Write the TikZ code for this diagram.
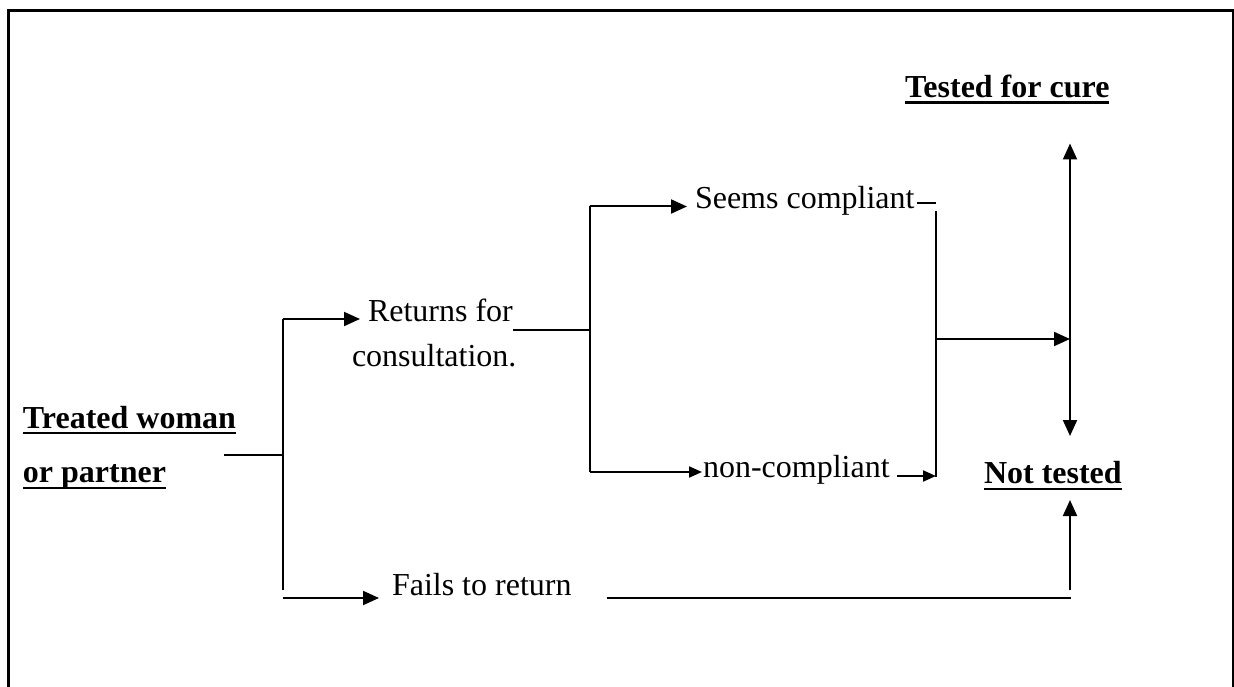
\documentclass[tikz,border=0pt]{standalone}
\usepackage{fontspec}
\setmainfont{Liberation Serif}
\usetikzlibrary{arrows.meta}
\tikzset{
  lbl/.style={anchor=base west, inner sep=0pt, outer sep=0pt, font=\fontsize{32}{38}\selectfont},
  head/.style={lbl, font=\fontsize{32}{38}\selectfont\bfseries},
  wire/.style={line width=2pt},
  arr/.style={wire, -{Triangle[length=16pt,width=14pt]}},
  sarr/.style={wire, -{Triangle[length=13pt,width=11pt]}},
  darr/.style={wire, {Triangle[length=16pt,width=14pt]}-{Triangle[length=16pt,width=14pt]}},
  uline/.style={line width=2.5pt},
}
\begin{document}
\begin{tikzpicture}[x=1pt, y=-1pt]
\useasboundingbox (0,0) rectangle (1234,687);
\clip (0,0) rectangle (1234,687);

% frame (open at the bottom)
\draw[line width=3pt] (8.5,700) -- (8.5,10.5) -- (1233.5,10.5) -- (1233.5,700);

% labels
\node[head] (cure)  at (905,98)    {Tested for cure};
\node[head] (tw1)   at (23,428.5)  {Treated woman};
\node[head] (tw2)   at (23,482.5)  {or partner};
\node[head] (nt)    at (984,483)   {Not tested};
\node[lbl]  (seems) at (695,209)   {Seems compliant};
\node[lbl]  (ret1)  at (368,321)   {Returns for};
\node[lbl]  (ret2)  at (352,366)   {consultation.};
\node[lbl]  (non)   at (703,477.5) {non-compliant};
\node[lbl]  (fail)  at (392,595)   {Fails to return};

% underlines of the bold headings
\foreach \n/\d in {cure/4.5,tw1/4.5,tw2/5.5,nt/6}
  \draw[uline] ([yshift=-\d pt]\n.base west) -- ([yshift=-\d pt]\n.base east);

% junction points
\coordinate (a0) at (224,455);
\coordinate (a1) at (283,455);
\coordinate (aT) at (283,319);
\coordinate (aB) at (283,590);
\coordinate (aF) at (283,598);
\coordinate (b0) at (513,330);
\coordinate (b1) at (590,330);
\coordinate (bT) at (590,206.5);
\coordinate (bB) at (590,472);
\coordinate (c0) at (917,203);
\coordinate (c1) at (936,203);
\coordinate (cT) at (936,211);
\coordinate (cM) at (936,339);
\coordinate (cB) at (936,477);
\coordinate (n0) at (897,476);
\coordinate (dT) at (1070,143.5);
\coordinate (dM) at (1070,339);
\coordinate (dB) at (1070,436);
\coordinate (f0) at (607,597.5);
\coordinate (f1) at (1071,597.5);
\coordinate (eB) at (1070,590);
\coordinate (eT) at (1070,500);

% first split: returns / fails to return
\draw[wire] (a0) -- (a1);
\draw[wire] (aT) -- (aB);
\draw[arr] (aT) -- (360,319);
\draw[arr] (aF) -- (379,598);

% second split: compliant / non-compliant
\draw[wire] (b0) -- (b1);
\draw[wire] (bT) -- (bB);
\draw[arr] (bT) -- (687,206.5);
\draw[sarr] (bB) -- (702,472);

% merge towards the outcome axis
\draw[wire] (c0) -- (c1);
\draw[wire] (cT) -- (cB);
\draw[sarr] (n0) -- (936,476);
\draw[arr] (cM) -- (dM);
\draw[darr] (dT) -- (dB);

% fails to return goes straight to not tested
\draw[wire] (f0) -- (f1);
\draw[arr] (eB) -- (eT);
\end{tikzpicture}
\end{document}
